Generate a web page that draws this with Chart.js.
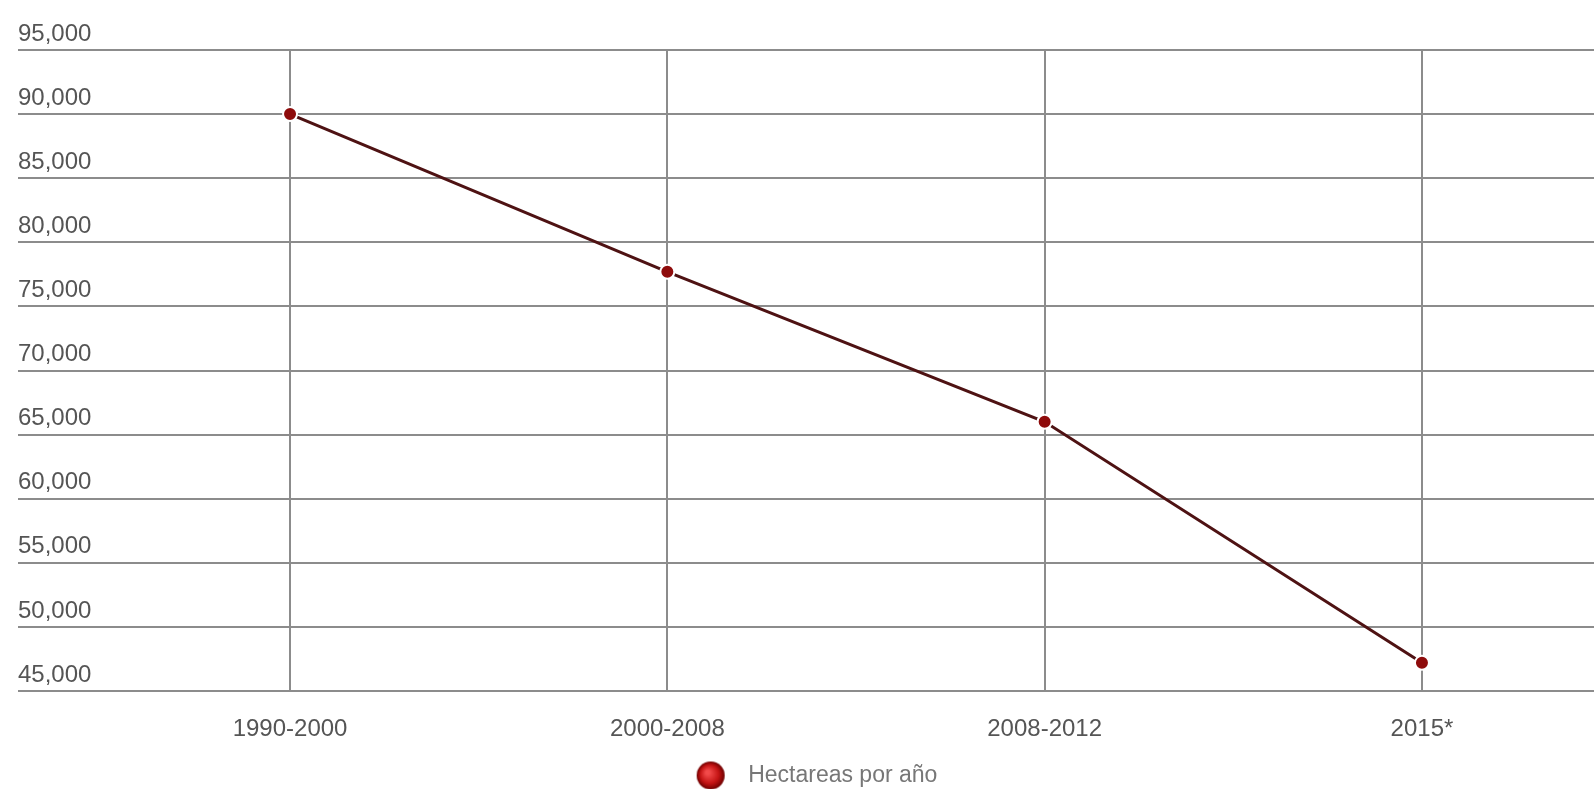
<!DOCTYPE html>
<html>
<head>
<meta charset="utf-8">
<script src="https://cdn.jsdelivr.net/npm/chart.js@4"></script>
<style>
  html, body { margin: 0; padding: 0; background: #fff; overflow: hidden; }
  #wrap { width: 1594px; height: 789px; position: relative; }
  #wrap canvas { display: block; }
</style>
</head>
<body>
<div id="wrap"><canvas id="line-chart"></canvas></div>
<script>
// periodos y hectareas por año
const categories = ["1990-2000", "2000-2008", "2008-2012", "2015*"];
const hectareas = [90000, 77700, 66000, 47200];
const seriesLabel = "Hectareas por año";

const tickFont = { family: "'Liberation Sans', Arial, sans-serif", size: 24 };

// bolita roja con brillo para la leyenda
function legendBall() {
    const c = document.createElement('canvas');
    c.width = 62;
    c.height = 30;
    const g = c.getContext('2d');
    const grad = g.createRadialGradient(33, 12, 2, 36, 15, 14);
    grad.addColorStop(0, '#f24a4a');
    grad.addColorStop(0.6, '#c41414');
    grad.addColorStop(1, '#6e0000');
    g.fillStyle = grad;
    g.beginPath();
    g.arc(36, 15, 14, 0, Math.PI * 2);
    g.fill();
    return c;
}

const ctx = document.getElementById('line-chart').getContext('2d');
const chart = new Chart(ctx, {
    type: 'line',
    data: {
        datasets: [{
            label: seriesLabel,
            data: categories.map((c, i) => ({ x: i, y: hectareas[i] })),
            borderColor: '#4e1213',
            borderWidth: 3,
            backgroundColor: '#8e0b0b',
            pointBackgroundColor: '#8e0b0b',
            pointBorderColor: '#ffffff',
            pointBorderWidth: 2,
            pointRadius: 7,
            tension: 0
        }]
    },
    options: {
        responsive: true,
        maintainAspectRatio: false,
        animation: false,
        layout: {
            autoPadding: false,
            padding: { left: 18, right: 0, top: 50, bottom: -8 }
        },
        scales: {
            x: {
                type: 'linear',
                min: -0.721,
                max: 3.456,
                afterBuildTicks: function(axis) {
                    axis.ticks = categories.map((c, i) => ({ value: i }));
                },
                afterFit: function(axis) {
                    axis.height = 70;
                },
                grid: { color: '#8c8c8c', lineWidth: 2, drawTicks: false },
                border: { display: false },
                ticks: {
                    padding: 5,
                    color: '#555555',
                    font: { family: tickFont.family, size: 24, lineHeight: 2.8 },
                    callback: function(value) {
                        return categories[value];
                    }
                }
            },
            y: {
                min: 45000,
                max: 95000,
                grid: { color: '#8c8c8c', lineWidth: 2, drawTicks: false },
                border: { display: false },
                ticks: {
                    stepSize: 5000,
                    mirror: true,
                    padding: 0,
                    labelOffset: -16,
                    color: '#555555',
                    font: tickFont,
                    callback: function(value) {
                        return value.toLocaleString('en-US');
                    }
                }
            }
        },
        plugins: {
            legend: {
                position: 'bottom',
                labels: {
                    usePointStyle: true,
                    pointStyle: legendBall(),
                    pointStyleWidth: 62,
                    padding: 3,
                    color: '#777777',
                    font: { family: tickFont.family, size: 23 }
                }
            },
            tooltip: { enabled: false }
        }
    }
});
</script>
</body>
</html>
